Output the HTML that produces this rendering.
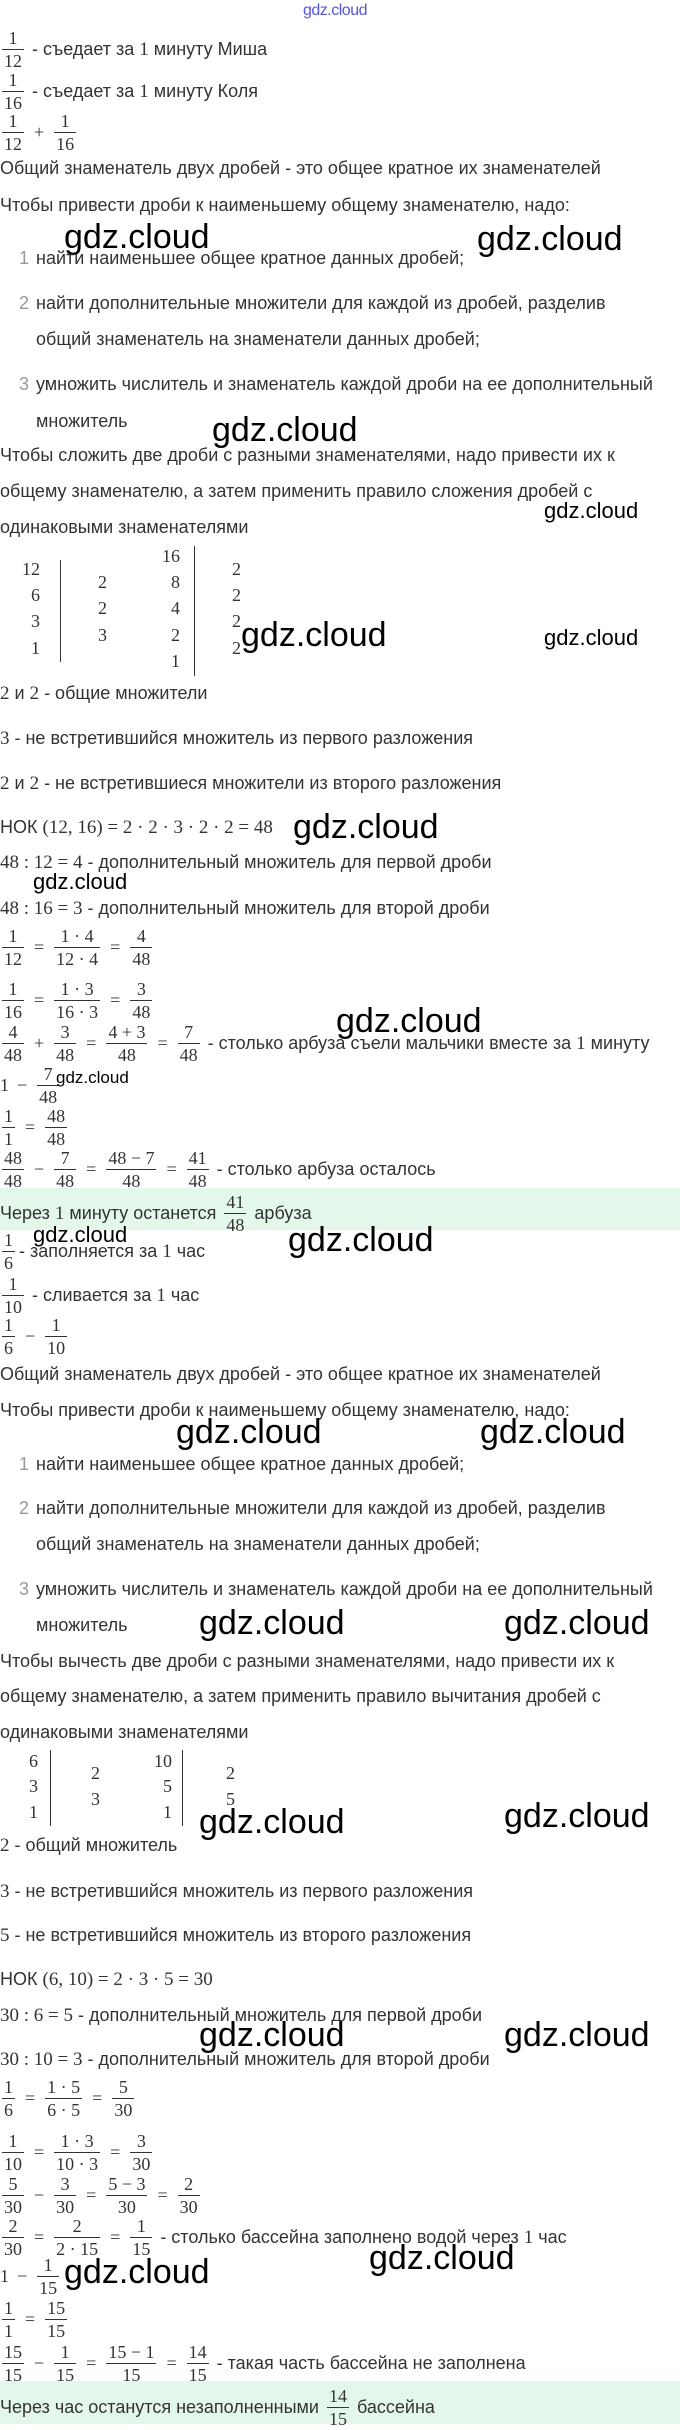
<!DOCTYPE html>
<html><head><meta charset="utf-8"><style>
body{margin:0;width:680px;height:2424px;position:relative;background:#fff;overflow:hidden}
.t{position:absolute;left:0;font:18px "Liberation Sans",sans-serif;color:#333;line-height:20px;white-space:nowrap}
.n{font-family:"Liberation Serif",serif;font-size:19px}
.e{position:absolute;left:0;display:flex;align-items:center;font:18px "Liberation Serif",serif;color:#333;white-space:nowrap}
.e .x{font:18px "Liberation Sans",sans-serif;margin-left:6px}
.f{display:inline-flex;flex-direction:column;align-items:center;margin:0 2px}
.f span{line-height:22px;padding:0 2px;text-align:center}
.f span:first-child{border-bottom:1px solid #333;align-self:stretch}
.o{margin:0 8px}
.w{position:absolute;font:34px "Liberation Sans",sans-serif;color:#000;line-height:40px;white-space:nowrap}
.ws{position:absolute;font:22px "Liberation Sans",sans-serif;color:#000;line-height:26px;white-space:nowrap}
.li{position:absolute;left:19px;font:18px "Liberation Sans",sans-serif;color:#999;line-height:20px}
.lt{position:absolute;left:36px;font:18px "Liberation Sans",sans-serif;color:#333;line-height:20px;white-space:nowrap}
.g{position:absolute;left:0;width:680px;background:#e3f8ea}
.c{position:absolute;font:18px "Liberation Serif",serif;color:#333;line-height:20px;width:20px;text-align:right}
.vb{position:absolute;width:1px;background:#333}
</style></head><body>
<div style="position:absolute;left:303px;top:2px;font:16px 'Liberation Sans',sans-serif;color:#5555dd;letter-spacing:-0.5px">gdz.cloud</div>

<div class="e" style="top:27px"><span class="f"><span>1</span><span>12</span></span><span class="x">- съедает за <span class="n">1</span> минуту Миша</span></div>
<div class="e" style="top:69px"><span class="f"><span>1</span><span>16</span></span><span class="x">- съедает за <span class="n">1</span> минуту Коля</span></div>
<div class="e" style="top:110px"><span class="f"><span>1</span><span>12</span></span><span class="o">+</span><span class="f"><span>1</span><span>16</span></span></div>

<div class="t" style="top:158px">Общий знаменатель двух дробей - это общее кратное их знаменателей</div>
<div class="t" style="top:195px">Чтобы привести дроби к наименьшему общему знаменателю, надо:</div>
<div class="w" style="left:64px;top:217px">gdz.cloud</div>
<div class="w" style="left:477px;top:219px">gdz.cloud</div>
<div class="li" style="top:248px">1</div><div class="lt" style="top:248px">найти наименьшее общее кратное данных дробей;</div>
<div class="li" style="top:293px">2</div><div class="lt" style="top:293px">найти дополнительные множители для каждой из дробей, разделив</div>
<div class="lt" style="top:329px">общий знаменатель на знаменатели данных дробей;</div>
<div class="li" style="top:374px">3</div><div class="lt" style="top:374px">умножить числитель и знаменатель каждой дроби на ее дополнительный</div>
<div class="lt" style="top:411px">множитель</div>
<div class="w" style="left:212px;top:410px">gdz.cloud</div>
<div class="t" style="top:445px">Чтобы сложить две дроби с разными знаменателями, надо привести их к</div>
<div class="t" style="top:481px">общему знаменателю, а затем применить правило сложения дробей с</div>
<div class="t" style="top:517px">одинаковыми знаменателями</div>
<div class="ws" style="left:544px;top:498px">gdz.cloud</div>

<div class="c" style="left:20px;top:559px">12</div>
<div class="c" style="left:20px;top:585px">6</div>
<div class="c" style="left:20px;top:611px">3</div>
<div class="c" style="left:20px;top:638px">1</div>
<div class="vb" style="left:60px;top:560px;height:102px"></div>
<div class="c" style="left:87px;top:572px">2</div>
<div class="c" style="left:87px;top:598px">2</div>
<div class="c" style="left:87px;top:625px">3</div>
<div class="c" style="left:160px;top:546px">16</div>
<div class="c" style="left:160px;top:572px">8</div>
<div class="c" style="left:160px;top:598px">4</div>
<div class="c" style="left:160px;top:625px">2</div>
<div class="c" style="left:160px;top:651px">1</div>
<div class="vb" style="left:194px;top:546px;height:130px"></div>
<div class="c" style="left:221px;top:559px">2</div>
<div class="c" style="left:221px;top:585px">2</div>
<div class="c" style="left:221px;top:611px">2</div>
<div class="c" style="left:221px;top:638px">2</div>
<div class="w" style="left:241px;top:615px">gdz.cloud</div>
<div class="ws" style="left:544px;top:625px">gdz.cloud</div>

<div class="t" style="top:683px"><span class="n">2</span> и <span class="n">2</span> - общие множители</div>
<div class="t" style="top:728px"><span class="n">3</span> - не встретившийся множитель из первого разложения</div>
<div class="t" style="top:773px"><span class="n">2</span> и <span class="n">2</span> - не встретившиеся множители из второго разложения</div>
<div class="t" style="top:817px">НОК <span class="n">(12, 16) = 2 · 2 · 3 · 2 · 2 = 48</span></div>
<div class="w" style="left:293px;top:807px">gdz.cloud</div>
<div class="t" style="top:852px"><span class="n">48 : 12 = 4</span> - дополнительный множитель для первой дроби</div>
<div class="ws" style="left:33px;top:869px">gdz.cloud</div>
<div class="t" style="top:898px"><span class="n">48 : 16 = 3</span> - дополнительный множитель для второй дроби</div>

<div class="e" style="top:925px"><span class="f"><span>1</span><span>12</span></span><span class="o">=</span><span class="f"><span>1 · 4</span><span>12 · 4</span></span><span class="o">=</span><span class="f"><span>4</span><span>48</span></span></div>
<div class="e" style="top:978px"><span class="f"><span>1</span><span>16</span></span><span class="o">=</span><span class="f"><span>1 · 3</span><span>16 · 3</span></span><span class="o">=</span><span class="f"><span>3</span><span>48</span></span></div>
<div class="e" style="top:1021px"><span class="f"><span>4</span><span>48</span></span><span class="o">+</span><span class="f"><span>3</span><span>48</span></span><span class="o">=</span><span class="f"><span>4 + 3</span><span>48</span></span><span class="o">=</span><span class="f"><span>7</span><span>48</span></span><span class="x">- столько арбуза съели мальчики вместе за <span class="n">1</span> минуту</span></div>
<div class="w" style="left:336px;top:1001px">gdz.cloud</div>
<div class="e" style="top:1063px"><span>1</span><span class="o">−</span><span class="f"><span>7</span><span>48</span></span></div>
<div class="ws" style="left:56px;top:1065px;font-size:17px">gdz.cloud</div>
<div class="e" style="top:1105px"><span class="f"><span>1</span><span>1</span></span><span class="o">=</span><span class="f"><span>48</span><span>48</span></span></div>
<div class="e" style="top:1147px"><span class="f"><span>48</span><span>48</span></span><span class="o">−</span><span class="f"><span>7</span><span>48</span></span><span class="o">=</span><span class="f"><span>48 − 7</span><span>48</span></span><span class="o">=</span><span class="f"><span>41</span><span>48</span></span><span class="x">- столько арбуза осталось</span></div>
<div class="g" style="top:1188px;height:42px"></div>
<div class="e" style="top:1191px"><span class="x" style="margin:0 6px 0 0">Через <span class="n">1</span> минуту останется</span><span class="f"><span>41</span><span>48</span></span><span class="x">арбуза</span></div>

<div class="e" style="top:1229px"><span class="f"><span>1</span><span>6</span></span><span class="x" style="margin-left:2px">- заполняется за <span class="n">1</span> час</span></div>
<div class="ws" style="left:33px;top:1222px">gdz.cloud</div>
<div class="w" style="left:288px;top:1220px">gdz.cloud</div>
<div class="e" style="top:1273px"><span class="f"><span>1</span><span>10</span></span><span class="x">- сливается за <span class="n">1</span> час</span></div>
<div class="e" style="top:1314px"><span class="f"><span>1</span><span>6</span></span><span class="o">−</span><span class="f"><span>1</span><span>10</span></span></div>

<div class="t" style="top:1364px">Общий знаменатель двух дробей - это общее кратное их знаменателей</div>
<div class="t" style="top:1400px">Чтобы привести дроби к наименьшему общему знаменателю, надо:</div>
<div class="w" style="left:176px;top:1412px">gdz.cloud</div>
<div class="w" style="left:480px;top:1412px">gdz.cloud</div>
<div class="li" style="top:1454px">1</div><div class="lt" style="top:1454px">найти наименьшее общее кратное данных дробей;</div>
<div class="li" style="top:1498px">2</div><div class="lt" style="top:1498px">найти дополнительные множители для каждой из дробей, разделив</div>
<div class="lt" style="top:1534px">общий знаменатель на знаменатели данных дробей;</div>
<div class="li" style="top:1579px">3</div><div class="lt" style="top:1579px">умножить числитель и знаменатель каждой дроби на ее дополнительный</div>
<div class="lt" style="top:1615px">множитель</div>
<div class="w" style="left:199px;top:1603px">gdz.cloud</div>
<div class="w" style="left:504px;top:1603px">gdz.cloud</div>
<div class="t" style="top:1651px">Чтобы вычесть две дроби с разными знаменателями, надо привести их к</div>
<div class="t" style="top:1686px">общему знаменателю, а затем применить правило вычитания дробей с</div>
<div class="t" style="top:1722px">одинаковыми знаменателями</div>

<div class="c" style="left:18px;top:1751px">6</div>
<div class="c" style="left:18px;top:1776px">3</div>
<div class="c" style="left:18px;top:1802px">1</div>
<div class="vb" style="left:50px;top:1750px;height:76px"></div>
<div class="c" style="left:80px;top:1763px">2</div>
<div class="c" style="left:80px;top:1789px">3</div>
<div class="c" style="left:152px;top:1751px">10</div>
<div class="c" style="left:152px;top:1776px">5</div>
<div class="c" style="left:152px;top:1802px">1</div>
<div class="vb" style="left:182px;top:1750px;height:76px"></div>
<div class="c" style="left:215px;top:1763px">2</div>
<div class="c" style="left:215px;top:1789px">5</div>
<div class="w" style="left:199px;top:1802px">gdz.cloud</div>
<div class="w" style="left:504px;top:1796px">gdz.cloud</div>

<div class="t" style="top:1835px"><span class="n">2</span> - общий множитель</div>
<div class="t" style="top:1881px"><span class="n">3</span> - не встретившийся множитель из первого разложения</div>
<div class="t" style="top:1925px"><span class="n">5</span> - не встретившийся множитель из второго разложения</div>
<div class="t" style="top:1969px">НОК <span class="n">(6, 10) = 2 · 3 · 5 = 30</span></div>
<div class="t" style="top:2005px"><span class="n">30 : 6 = 5</span> - дополнительный множитель для первой дроби</div>
<div class="w" style="left:199px;top:2015px">gdz.cloud</div>
<div class="w" style="left:504px;top:2015px">gdz.cloud</div>
<div class="t" style="top:2049px"><span class="n">30 : 10 = 3</span> - дополнительный множитель для второй дроби</div>

<div class="e" style="top:2076px"><span class="f"><span>1</span><span>6</span></span><span class="o">=</span><span class="f"><span>1 · 5</span><span>6 · 5</span></span><span class="o">=</span><span class="f"><span>5</span><span>30</span></span></div>
<div class="e" style="top:2130px"><span class="f"><span>1</span><span>10</span></span><span class="o">=</span><span class="f"><span>1 · 3</span><span>10 · 3</span></span><span class="o">=</span><span class="f"><span>3</span><span>30</span></span></div>
<div class="e" style="top:2173px"><span class="f"><span>5</span><span>30</span></span><span class="o">−</span><span class="f"><span>3</span><span>30</span></span><span class="o">=</span><span class="f"><span>5 − 3</span><span>30</span></span><span class="o">=</span><span class="f"><span>2</span><span>30</span></span></div>
<div class="e" style="top:2215px"><span class="f"><span>2</span><span>30</span></span><span class="o">=</span><span class="f"><span>2</span><span>2 · 15</span></span><span class="o">=</span><span class="f"><span>1</span><span>15</span></span><span class="x">- столько бассейна заполнено водой через <span class="n">1</span> час</span></div>
<div class="w" style="left:369px;top:2238px">gdz.cloud</div>
<div class="e" style="top:2254px"><span>1</span><span class="o">−</span><span class="f"><span>1</span><span>15</span></span></div>
<div class="w" style="left:64px;top:2252px">gdz.cloud</div>
<div class="e" style="top:2297px"><span class="f"><span>1</span><span>1</span></span><span class="o">=</span><span class="f"><span>15</span><span>15</span></span></div>
<div class="e" style="top:2341px"><span class="f"><span>15</span><span>15</span></span><span class="o">−</span><span class="f"><span>1</span><span>15</span></span><span class="o">=</span><span class="f"><span>15 − 1</span><span>15</span></span><span class="o">=</span><span class="f"><span>14</span><span>15</span></span><span class="x">- такая часть бассейна не заполнена</span></div>
<div class="g" style="top:2381px;height:43px"></div>
<div class="e" style="top:2385px"><span class="x" style="margin:0 6px 0 0">Через час останутся незаполненными</span><span class="f"><span>14</span><span>15</span></span><span class="x">бассейна</span></div>
</body></html>
